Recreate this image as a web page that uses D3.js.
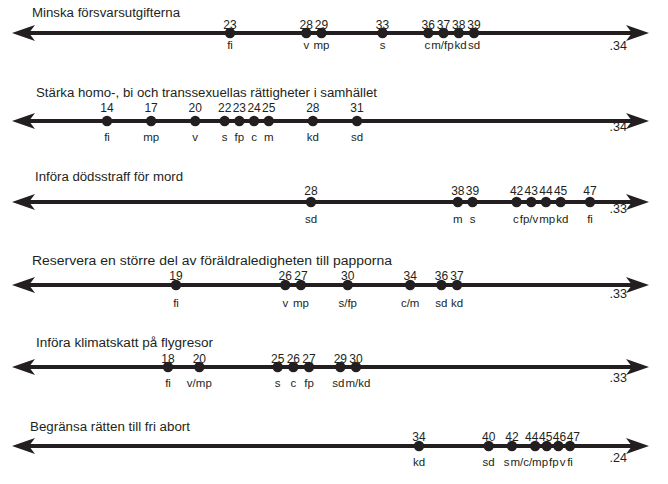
<!DOCTYPE html>
<html><head><meta charset="utf-8">
<script src="https://cdn.jsdelivr.net/npm/d3@7"></script>
<style>body{margin:0;background:#fff}svg{display:block}text{font-family:"Liberation Sans",Arial,sans-serif;fill:#231f20}</style>
</head><body><svg id="c" width="668" height="484"></svg>
<script>
// ---- data ----
const titles = [
  "Minska försvarsutgifterna",
  "Stärka homo-, bi och transsexuellas rättigheter i samhället",
  "Införa dödsstraff för mord",
  "Reservera en större del av föräldraledigheten till papporna",
  "Införa klimatskatt på flygresor",
  "Begränsa rätten till fri abort"
];
const endLabels = [".34", ".34", ".33", ".33", ".33", ".24"];
const values1 = [23, 28, 29, 33, 36, 37, 38, 39];
const parties1 = ["fi", "v", "mp", "s", "c", "m/fp", "kd", "sd"];
const values2 = [14, 17, 20, 22, 23, 24, 25, 28, 31];
const parties2 = ["fi", "mp", "v", "s", "fp", "c", "m", "kd", "sd"];
const values3 = [28, 38, 39, 42, 43, 44, 45, 47];
const parties3 = ["sd", "m", "s", "c", "fp/v", "mp", "kd", "fi"];
const values4 = [19, 26, 27, 30, 34, 36, 37];
const parties4 = ["fi", "v", "mp", "s/fp", "c/m", "sd", "kd"];
const values5 = [18, 20, 25, 26, 27, 29, 30];
const parties5 = ["fi", "v/mp", "s", "c", "fp", "sd", "m/kd"];
const values6 = [34, 40, 42, 44, 45, 46, 47];
const parties6 = ["kd", "sd", "s", "m/c/mp", "fp", "v", "fi"];

const rowValues = [values1, values2, values3, values4, values5, values6];
const rowParties = [parties1, parties2, parties3, parties4, parties5, parties6];

// ---- layout ----
const rowY = [33, 121, 202, 285, 367, 446];
const rowRange = [[230, 474], [107, 357], [311, 590], [176, 457], [168, 356], [419, 570]];
const titleX = [32, 36, 35, 32, 36, 30];
const titleW = [148, 341, 148, 360, 177, 160];
const titleDY = [-16, -24, -21, -20, -20, -15];
const numDY = [-4, -9, -7, -5, -4, -5];
const labDY = [16, 20, 21, 22, 20, 20];
const endDY = [17, 10, 11, 13, 15, 16];
const ink = "#231f20";

const svg = d3.select("#c");

// push apart neighbouring texts so they do not overlap
function relax(sel, gap) {
  const nodes = sel.nodes().map(n => ({ n, x: +n.getAttribute("x"), w: n.getComputedTextLength() }));
  nodes.sort((a, b) => a.x - b.x);
  for (let it = 0; it < 40; it++) {
    for (let k = 0; k < nodes.length - 1; k++) {
      const a = nodes[k], b = nodes[k + 1];
      const ov = (a.x + a.w / 2 + gap) - (b.x - b.w / 2);
      if (ov > 0) { a.x -= ov / 2; b.x += ov / 2; }
    }
  }
  nodes.forEach(d => d.n.setAttribute("x", d.x));
}

rowValues.forEach((vals, i) => {
  const y = rowY[i];
  const x = d3.scaleLinear().domain(d3.extent(vals)).range(rowRange[i]);
  const g = svg.append("g");
  const xl = 12, xr = 649;
  g.append("line").attr("x1", xl + 14).attr("x2", xr - 14).attr("y1", y).attr("y2", y)
    .attr("stroke", ink).attr("stroke-width", 4);
  g.append("path").attr("fill", ink)
    .attr("d", `M${xl},${y} L${xl + 23},${y - 8} L${xl + 17},${y} L${xl + 23},${y + 8} Z`);
  g.append("path").attr("fill", ink)
    .attr("d", `M${xr},${y} L${xr - 23},${y - 8} L${xr - 17},${y} L${xr - 23},${y + 8} Z`);
  g.append("text").attr("x", titleX[i]).attr("y", y + titleDY[i])
    .attr("font-size", 12.5).attr("textLength", titleW[i])
    .attr("lengthAdjust", "spacingAndGlyphs").text(titles[i]);
  g.append("text").attr("x", 627).attr("y", y + endDY[i]).attr("text-anchor", "end")
    .attr("font-size", 12.5).text(endLabels[i]);
  g.selectAll("circle").data(vals).join("circle")
    .attr("cx", d => x(d)).attr("cy", y).attr("r", 5.2).attr("fill", ink);
  const nums = g.selectAll("text.num").data(vals).join("text").attr("class", "num")
    .attr("x", d => x(d)).attr("y", y + numDY[i]).attr("text-anchor", "middle")
    .attr("font-size", 12).text(d => d);
  const labs = g.selectAll("text.lab").data(rowParties[i]).join("text").attr("class", "lab")
    .attr("x", (d, j) => x(vals[j])).attr("y", y + labDY[i]).attr("text-anchor", "middle")
    .attr("font-size", 11.5).text(d => d);
  relax(nums, 0.5);
  relax(labs, 1);
});
</script></body></html>
